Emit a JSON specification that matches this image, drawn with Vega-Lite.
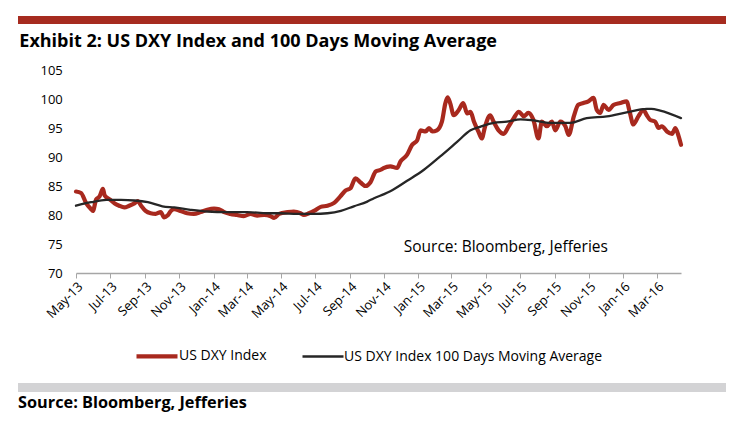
{
  "$schema": "https://vega.github.io/schema/vega-lite/v6.json",
  "background": "white",
  "padding": {"left": 18, "top": 16, "right": 10, "bottom": 5},
  "spacing": 8,
  "config": {
    "font": "Open Sans",
    "view": {"stroke": null},
    "axis": {"labelOverlap": false}
  },
  "vconcat": [
    {
      "width": 708,
      "height": 8,
      "view": {"fill": "#A62B1F", "stroke": null},
      "data": {"values": [{"k": 1}]},
      "mark": {"type": "point", "opacity": 0},
      "encoding": {}
    },
    {
      "spacing": 0,
      "hconcat": [
        {
          "width": 1,
          "height": 305,
          "data": {"values": [{"k": 1}]},
          "mark": {"type": "point", "opacity": 0, "size": 0, "strokeWidth": 0},
          "encoding": {}
        },
        {
          "width": 605,
          "height": 203,
          "title": {
            "text": "Exhibit 2: US DXY Index and 100 Days Moving Average",
            "anchor": "start",
            "frame": "bounds",
            "offset": 13.3,
            "dx": 0,
            "font": "Open Sans",
            "fontSize": 18,
            "fontWeight": "bold",
            "color": "#000000"
          },
          "layer": [
            {
              "data": {
                "values": [
                  {"date": "2013-05-01", "series": "US DXY Index", "value": 84.05},
                  {"date": "2013-05-10", "series": "US DXY Index", "value": 83.8},
                  {"date": "2013-05-19", "series": "US DXY Index", "value": 82.05},
                  {"date": "2013-05-28", "series": "US DXY Index", "value": 81.0},
                  {"date": "2013-05-31", "series": "US DXY Index", "value": 80.7},
                  {"date": "2013-06-06", "series": "US DXY Index", "value": 82.7},
                  {"date": "2013-06-12", "series": "US DXY Index", "value": 83.2},
                  {"date": "2013-06-18", "series": "US DXY Index", "value": 84.5},
                  {"date": "2013-06-21", "series": "US DXY Index", "value": 83.4},
                  {"date": "2013-06-30", "series": "US DXY Index", "value": 82.7},
                  {"date": "2013-07-09", "series": "US DXY Index", "value": 82.0},
                  {"date": "2013-07-17", "series": "US DXY Index", "value": 81.6},
                  {"date": "2013-07-26", "series": "US DXY Index", "value": 81.3},
                  {"date": "2013-08-04", "series": "US DXY Index", "value": 81.6},
                  {"date": "2013-08-13", "series": "US DXY Index", "value": 82.0},
                  {"date": "2013-08-19", "series": "US DXY Index", "value": 82.4},
                  {"date": "2013-08-25", "series": "US DXY Index", "value": 81.6},
                  {"date": "2013-09-02", "series": "US DXY Index", "value": 80.7},
                  {"date": "2013-09-11", "series": "US DXY Index", "value": 80.3},
                  {"date": "2013-09-20", "series": "US DXY Index", "value": 80.2},
                  {"date": "2013-09-29", "series": "US DXY Index", "value": 80.5},
                  {"date": "2013-10-05", "series": "US DXY Index", "value": 79.6},
                  {"date": "2013-10-11", "series": "US DXY Index", "value": 79.9},
                  {"date": "2013-10-17", "series": "US DXY Index", "value": 80.7},
                  {"date": "2013-10-23", "series": "US DXY Index", "value": 81.0},
                  {"date": "2013-11-03", "series": "US DXY Index", "value": 80.7},
                  {"date": "2013-11-15", "series": "US DXY Index", "value": 80.3},
                  {"date": "2013-11-27", "series": "US DXY Index", "value": 80.2},
                  {"date": "2013-12-09", "series": "US DXY Index", "value": 80.5},
                  {"date": "2013-12-21", "series": "US DXY Index", "value": 80.9},
                  {"date": "2014-01-02", "series": "US DXY Index", "value": 81.1},
                  {"date": "2014-01-11", "series": "US DXY Index", "value": 81.0},
                  {"date": "2014-01-20", "series": "US DXY Index", "value": 80.5},
                  {"date": "2014-01-31", "series": "US DXY Index", "value": 80.2},
                  {"date": "2014-02-12", "series": "US DXY Index", "value": 80.0},
                  {"date": "2014-02-24", "series": "US DXY Index", "value": 79.8},
                  {"date": "2014-03-08", "series": "US DXY Index", "value": 80.2},
                  {"date": "2014-03-20", "series": "US DXY Index", "value": 79.9},
                  {"date": "2014-04-01", "series": "US DXY Index", "value": 80.0},
                  {"date": "2014-04-13", "series": "US DXY Index", "value": 79.8},
                  {"date": "2014-04-19", "series": "US DXY Index", "value": 79.5},
                  {"date": "2014-04-28", "series": "US DXY Index", "value": 80.2},
                  {"date": "2014-05-13", "series": "US DXY Index", "value": 80.5},
                  {"date": "2014-05-24", "series": "US DXY Index", "value": 80.6},
                  {"date": "2014-06-05", "series": "US DXY Index", "value": 80.3},
                  {"date": "2014-06-11", "series": "US DXY Index", "value": 80.0},
                  {"date": "2014-06-20", "series": "US DXY Index", "value": 80.3},
                  {"date": "2014-06-29", "series": "US DXY Index", "value": 80.7},
                  {"date": "2014-07-11", "series": "US DXY Index", "value": 81.4},
                  {"date": "2014-07-23", "series": "US DXY Index", "value": 81.6},
                  {"date": "2014-08-04", "series": "US DXY Index", "value": 82.1},
                  {"date": "2014-08-15", "series": "US DXY Index", "value": 83.2},
                  {"date": "2014-08-24", "series": "US DXY Index", "value": 84.2},
                  {"date": "2014-09-02", "series": "US DXY Index", "value": 84.6},
                  {"date": "2014-09-11", "series": "US DXY Index", "value": 86.3},
                  {"date": "2014-09-20", "series": "US DXY Index", "value": 85.6},
                  {"date": "2014-09-29", "series": "US DXY Index", "value": 85.0},
                  {"date": "2014-10-08", "series": "US DXY Index", "value": 85.7},
                  {"date": "2014-10-17", "series": "US DXY Index", "value": 87.5},
                  {"date": "2014-10-26", "series": "US DXY Index", "value": 87.8},
                  {"date": "2014-10-31", "series": "US DXY Index", "value": 88.1},
                  {"date": "2014-11-12", "series": "US DXY Index", "value": 88.4},
                  {"date": "2014-11-24", "series": "US DXY Index", "value": 88.1},
                  {"date": "2014-11-30", "series": "US DXY Index", "value": 89.2},
                  {"date": "2014-12-12", "series": "US DXY Index", "value": 90.4},
                  {"date": "2014-12-21", "series": "US DXY Index", "value": 92.1},
                  {"date": "2014-12-30", "series": "US DXY Index", "value": 92.9},
                  {"date": "2015-01-05", "series": "US DXY Index", "value": 94.6},
                  {"date": "2015-01-14", "series": "US DXY Index", "value": 94.4},
                  {"date": "2015-01-20", "series": "US DXY Index", "value": 95.0},
                  {"date": "2015-01-26", "series": "US DXY Index", "value": 94.4},
                  {"date": "2015-02-03", "series": "US DXY Index", "value": 94.6},
                  {"date": "2015-02-12", "series": "US DXY Index", "value": 96.1},
                  {"date": "2015-02-18", "series": "US DXY Index", "value": 99.2},
                  {"date": "2015-02-22", "series": "US DXY Index", "value": 100.3},
                  {"date": "2015-02-27", "series": "US DXY Index", "value": 99.2},
                  {"date": "2015-03-05", "series": "US DXY Index", "value": 97.2},
                  {"date": "2015-03-14", "series": "US DXY Index", "value": 98.1},
                  {"date": "2015-03-22", "series": "US DXY Index", "value": 99.3},
                  {"date": "2015-03-29", "series": "US DXY Index", "value": 97.5},
                  {"date": "2015-04-04", "series": "US DXY Index", "value": 97.8},
                  {"date": "2015-04-10", "series": "US DXY Index", "value": 96.1},
                  {"date": "2015-04-18", "series": "US DXY Index", "value": 94.4},
                  {"date": "2015-04-24", "series": "US DXY Index", "value": 93.2},
                  {"date": "2015-04-30", "series": "US DXY Index", "value": 95.3},
                  {"date": "2015-05-09", "series": "US DXY Index", "value": 97.2},
                  {"date": "2015-05-15", "series": "US DXY Index", "value": 96.1},
                  {"date": "2015-05-24", "series": "US DXY Index", "value": 94.6},
                  {"date": "2015-06-02", "series": "US DXY Index", "value": 94.0},
                  {"date": "2015-06-11", "series": "US DXY Index", "value": 95.3},
                  {"date": "2015-06-20", "series": "US DXY Index", "value": 96.7},
                  {"date": "2015-06-29", "series": "US DXY Index", "value": 97.8},
                  {"date": "2015-07-08", "series": "US DXY Index", "value": 97.0},
                  {"date": "2015-07-16", "series": "US DXY Index", "value": 97.6},
                  {"date": "2015-07-25", "series": "US DXY Index", "value": 96.4},
                  {"date": "2015-08-03", "series": "US DXY Index", "value": 93.2},
                  {"date": "2015-08-09", "series": "US DXY Index", "value": 96.1},
                  {"date": "2015-08-18", "series": "US DXY Index", "value": 95.3},
                  {"date": "2015-08-27", "series": "US DXY Index", "value": 96.1},
                  {"date": "2015-09-02", "series": "US DXY Index", "value": 94.6},
                  {"date": "2015-09-11", "series": "US DXY Index", "value": 96.1},
                  {"date": "2015-09-20", "series": "US DXY Index", "value": 95.3},
                  {"date": "2015-09-26", "series": "US DXY Index", "value": 93.8},
                  {"date": "2015-10-05", "series": "US DXY Index", "value": 97.0},
                  {"date": "2015-10-13", "series": "US DXY Index", "value": 99.0},
                  {"date": "2015-10-22", "series": "US DXY Index", "value": 99.3},
                  {"date": "2015-10-31", "series": "US DXY Index", "value": 99.6},
                  {"date": "2015-11-09", "series": "US DXY Index", "value": 100.2},
                  {"date": "2015-11-15", "series": "US DXY Index", "value": 98.1},
                  {"date": "2015-11-21", "series": "US DXY Index", "value": 97.6},
                  {"date": "2015-11-27", "series": "US DXY Index", "value": 99.0},
                  {"date": "2015-12-06", "series": "US DXY Index", "value": 98.1},
                  {"date": "2015-12-15", "series": "US DXY Index", "value": 99.0},
                  {"date": "2015-12-27", "series": "US DXY Index", "value": 99.3},
                  {"date": "2016-01-07", "series": "US DXY Index", "value": 99.6},
                  {"date": "2016-01-13", "series": "US DXY Index", "value": 97.6},
                  {"date": "2016-01-19", "series": "US DXY Index", "value": 95.6},
                  {"date": "2016-01-28", "series": "US DXY Index", "value": 97.0},
                  {"date": "2016-02-06", "series": "US DXY Index", "value": 98.1},
                  {"date": "2016-02-12", "series": "US DXY Index", "value": 97.2},
                  {"date": "2016-02-18", "series": "US DXY Index", "value": 96.4},
                  {"date": "2016-02-27", "series": "US DXY Index", "value": 96.1},
                  {"date": "2016-03-04", "series": "US DXY Index", "value": 95.0},
                  {"date": "2016-03-10", "series": "US DXY Index", "value": 95.3},
                  {"date": "2016-03-19", "series": "US DXY Index", "value": 94.4},
                  {"date": "2016-03-28", "series": "US DXY Index", "value": 94.0},
                  {"date": "2016-04-03", "series": "US DXY Index", "value": 95.0},
                  {"date": "2016-04-09", "series": "US DXY Index", "value": 93.5},
                  {"date": "2016-04-13", "series": "US DXY Index", "value": 92.1},
                  {"date": "2013-05-01", "series": "US DXY Index 100 Days Moving Average", "value": 81.6},
                  {"date": "2013-05-28", "series": "US DXY Index 100 Days Moving Average", "value": 82.2},
                  {"date": "2013-06-24", "series": "US DXY Index 100 Days Moving Average", "value": 82.6},
                  {"date": "2013-07-20", "series": "US DXY Index 100 Days Moving Average", "value": 82.6},
                  {"date": "2013-08-13", "series": "US DXY Index 100 Days Moving Average", "value": 82.5},
                  {"date": "2013-09-06", "series": "US DXY Index 100 Days Moving Average", "value": 82.2},
                  {"date": "2013-10-02", "series": "US DXY Index 100 Days Moving Average", "value": 81.5},
                  {"date": "2013-10-23", "series": "US DXY Index 100 Days Moving Average", "value": 81.3},
                  {"date": "2013-11-21", "series": "US DXY Index 100 Days Moving Average", "value": 80.9},
                  {"date": "2013-12-21", "series": "US DXY Index 100 Days Moving Average", "value": 80.6},
                  {"date": "2014-01-25", "series": "US DXY Index 100 Days Moving Average", "value": 80.5},
                  {"date": "2014-03-02", "series": "US DXY Index 100 Days Moving Average", "value": 80.5},
                  {"date": "2014-04-07", "series": "US DXY Index 100 Days Moving Average", "value": 80.3},
                  {"date": "2014-05-01", "series": "US DXY Index 100 Days Moving Average", "value": 80.3},
                  {"date": "2014-05-30", "series": "US DXY Index 100 Days Moving Average", "value": 80.2},
                  {"date": "2014-06-29", "series": "US DXY Index 100 Days Moving Average", "value": 80.2},
                  {"date": "2014-07-23", "series": "US DXY Index 100 Days Moving Average", "value": 80.3},
                  {"date": "2014-08-16", "series": "US DXY Index 100 Days Moving Average", "value": 80.7},
                  {"date": "2014-09-08", "series": "US DXY Index 100 Days Moving Average", "value": 81.5},
                  {"date": "2014-10-02", "series": "US DXY Index 100 Days Moving Average", "value": 82.3},
                  {"date": "2014-10-14", "series": "US DXY Index 100 Days Moving Average", "value": 82.9},
                  {"date": "2014-11-01", "series": "US DXY Index 100 Days Moving Average", "value": 83.6},
                  {"date": "2014-11-12", "series": "US DXY Index 100 Days Moving Average", "value": 84.1},
                  {"date": "2014-12-12", "series": "US DXY Index 100 Days Moving Average", "value": 85.9},
                  {"date": "2015-01-11", "series": "US DXY Index 100 Days Moving Average", "value": 87.8},
                  {"date": "2015-02-09", "series": "US DXY Index 100 Days Moving Average", "value": 90.1},
                  {"date": "2015-03-11", "series": "US DXY Index 100 Days Moving Average", "value": 92.6},
                  {"date": "2015-04-04", "series": "US DXY Index 100 Days Moving Average", "value": 94.6},
                  {"date": "2015-04-21", "series": "US DXY Index 100 Days Moving Average", "value": 95.2},
                  {"date": "2015-05-15", "series": "US DXY Index 100 Days Moving Average", "value": 95.9},
                  {"date": "2015-06-08", "series": "US DXY Index 100 Days Moving Average", "value": 96.1},
                  {"date": "2015-07-02", "series": "US DXY Index 100 Days Moving Average", "value": 96.5},
                  {"date": "2015-07-26", "series": "US DXY Index 100 Days Moving Average", "value": 96.3},
                  {"date": "2015-08-24", "series": "US DXY Index 100 Days Moving Average", "value": 95.9},
                  {"date": "2015-09-29", "series": "US DXY Index 100 Days Moving Average", "value": 95.9},
                  {"date": "2015-10-28", "series": "US DXY Index 100 Days Moving Average", "value": 96.7},
                  {"date": "2015-12-03", "series": "US DXY Index 100 Days Moving Average", "value": 97.0},
                  {"date": "2016-01-07", "series": "US DXY Index 100 Days Moving Average", "value": 97.7},
                  {"date": "2016-02-12", "series": "US DXY Index 100 Days Moving Average", "value": 98.3},
                  {"date": "2016-02-20", "series": "US DXY Index 100 Days Moving Average", "value": 98.3},
                  {"date": "2016-03-07", "series": "US DXY Index 100 Days Moving Average", "value": 98.0},
                  {"date": "2016-04-13", "series": "US DXY Index 100 Days Moving Average", "value": 96.7}
                ]
              },
              "mark": {"type": "line", "strokeJoin": "round", "strokeCap": "round", "interpolate": "monotone"},
              "encoding": {
                "x": {
                  "field": "date",
                  "type": "temporal",
                  "scale": {"type": "utc", "domain": [{"year": 2013, "month": 5, "date": 1, "utc": true}, {"year": 2016, "month": 4, "date": 13, "utc": true}]},
                  "axis": {
                    "title": null,
                    "values": [
                      {"year": 2013, "month": 5, "date": 1, "utc": true},
                      {"year": 2013, "month": 7, "date": 1, "utc": true},
                      {"year": 2013, "month": 9, "date": 1, "utc": true},
                      {"year": 2013, "month": 11, "date": 1, "utc": true},
                      {"year": 2014, "month": 1, "date": 1, "utc": true},
                      {"year": 2014, "month": 3, "date": 1, "utc": true},
                      {"year": 2014, "month": 5, "date": 1, "utc": true},
                      {"year": 2014, "month": 7, "date": 1, "utc": true},
                      {"year": 2014, "month": 9, "date": 1, "utc": true},
                      {"year": 2014, "month": 11, "date": 1, "utc": true},
                      {"year": 2015, "month": 1, "date": 1, "utc": true},
                      {"year": 2015, "month": 3, "date": 1, "utc": true},
                      {"year": 2015, "month": 5, "date": 1, "utc": true},
                      {"year": 2015, "month": 7, "date": 1, "utc": true},
                      {"year": 2015, "month": 9, "date": 1, "utc": true},
                      {"year": 2015, "month": 11, "date": 1, "utc": true},
                      {"year": 2016, "month": 1, "date": 1, "utc": true},
                      {"year": 2016, "month": 3, "date": 1, "utc": true}
                    ],
                    "format": "%b-%y",
                    "labelAngle": -45,
                    "labelFontSize": 13,
                    "labelColor": "#000000",
                    "labelPadding": 2,
                    "labelOverlap": false,
                    "labelBound": false,
                    "labelFlush": false,
                    "grid": false,
                    "domainColor": "#A6A6A6",
                    "domainWidth": 1.5,
                    "tickColor": "#A6A6A6",
                    "tickSize": 5,
                    "tickWidth": 1
                  }
                },
                "y": {
                  "field": "value",
                  "type": "quantitative",
                  "scale": {"domain": [70, 105], "nice": false, "zero": false},
                  "axis": {
                    "title": null,
                    "values": [70, 75, 80, 85, 90, 95, 100, 105],
                    "grid": false,
                    "domain": false,
                    "ticks": false,
                    "labelOverlap": false,
                    "labelFlush": false,
                    "labelPadding": 13.7,
                    "labelFontSize": 13,
                    "labelColor": "#000000",
                    "minExtent": 56.7
                  }
                },
                "color": {
                  "field": "series",
                  "type": "nominal",
                  "scale": {"domain": ["US DXY Index", "US DXY Index 100 Days Moving Average"], "range": ["#A8291E", "#262626"]},
                  "legend": {
                    "title": null,
                    "orient": "none",
                    "direction": "horizontal",
                    "legendX": 116,
                    "legendY": 317,
                    "symbolType": "stroke",
                    "symbolSize": 1681,
                    "labelOffset": -1,
                    "labelFontSize": 14,
                    "labelColor": "#000000",
                    "columnPadding": 30,
                    "labelLimit": 400
                  }
                },
                "strokeWidth": {
                  "field": "series",
                  "type": "nominal",
                  "scale": {"domain": ["US DXY Index", "US DXY Index 100 Days Moving Average"], "range": [4.2, 2.3]},
                  "legend": null
                }
              }
            },
            {
              "data": {"values": [{"k": 1}]},
              "mark": {"type": "text", "align": "left", "baseline": "middle", "fontSize": 15.5, "color": "#000000"},
              "encoding": {
                "x": {
                  "datum": {"year": 2014, "month": 12, "date": 6, "utc": true},
                  "type": "temporal",
                  "axis": {
                    "title": null,
                    "values": [
                      {"year": 2013, "month": 5, "date": 1, "utc": true},
                      {"year": 2013, "month": 7, "date": 1, "utc": true},
                      {"year": 2013, "month": 9, "date": 1, "utc": true},
                      {"year": 2013, "month": 11, "date": 1, "utc": true},
                      {"year": 2014, "month": 1, "date": 1, "utc": true},
                      {"year": 2014, "month": 3, "date": 1, "utc": true},
                      {"year": 2014, "month": 5, "date": 1, "utc": true},
                      {"year": 2014, "month": 7, "date": 1, "utc": true},
                      {"year": 2014, "month": 9, "date": 1, "utc": true},
                      {"year": 2014, "month": 11, "date": 1, "utc": true},
                      {"year": 2015, "month": 1, "date": 1, "utc": true},
                      {"year": 2015, "month": 3, "date": 1, "utc": true},
                      {"year": 2015, "month": 5, "date": 1, "utc": true},
                      {"year": 2015, "month": 7, "date": 1, "utc": true},
                      {"year": 2015, "month": 9, "date": 1, "utc": true},
                      {"year": 2015, "month": 11, "date": 1, "utc": true},
                      {"year": 2016, "month": 1, "date": 1, "utc": true},
                      {"year": 2016, "month": 3, "date": 1, "utc": true}
                    ],
                    "format": "%b-%y",
                    "labelAngle": -45,
                    "labelFontSize": 13,
                    "labelColor": "#000000",
                    "labelPadding": 2,
                    "labelOverlap": false,
                    "labelBound": false,
                    "labelFlush": false,
                    "grid": false,
                    "domainColor": "#A6A6A6",
                    "domainWidth": 1.5,
                    "tickColor": "#A6A6A6",
                    "tickSize": 5,
                    "tickWidth": 1
                  }
                },
                "y": {
                  "datum": 74.5,
                  "type": "quantitative",
                  "axis": {
                    "title": null,
                    "values": [70, 75, 80, 85, 90, 95, 100, 105],
                    "grid": false,
                    "domain": false,
                    "ticks": false,
                    "labelOverlap": false,
                    "labelFlush": false,
                    "labelPadding": 13.7,
                    "labelFontSize": 13,
                    "labelColor": "#000000",
                    "minExtent": 56.7
                  }
                },
                "text": {"value": "Source:  Bloomberg, Jefferies"}
              }
            }
          ]
        }
      ]
    },
    {
      "width": 708,
      "height": 9,
      "view": {"fill": "#D3D3D5", "stroke": null},
      "data": {"values": [{"k": 1}]},
      "mark": {"type": "point", "opacity": 0},
      "encoding": {},
      "title": {
        "text": "Source: Bloomberg, Jefferies",
        "orient": "bottom",
        "anchor": "start",
        "frame": "group",
        "offset": 3,
        "dx": 0,
        "font": "Open Sans",
        "fontSize": 16.3,
        "fontWeight": "bold",
        "color": "#000000"
      }
    }
  ]
}
